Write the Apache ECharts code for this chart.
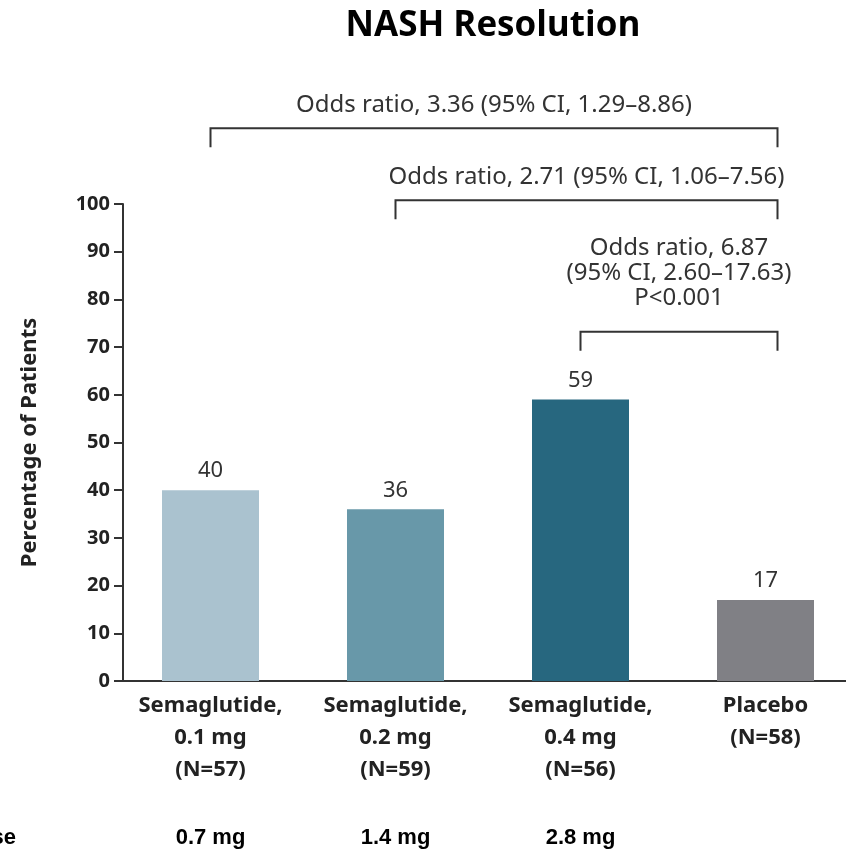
<!DOCTYPE html>
<html>
<head>
<meta charset="utf-8">
<script src="https://cdn.jsdelivr.net/npm/echarts@6/dist/echarts.min.js"></script>
<style>html,body{margin:0;padding:0;background:#fff}#c{width:846px;height:856px}</style>
</head>
<body>
<div id="c"></div>
<script>
const categories = ['Semaglutide,\n0.1 mg\n(N=57)', 'Semaglutide,\n0.2 mg\n(N=59)', 'Semaglutide,\n0.4 mg\n(N=56)', 'Placebo\n(N=58)'];
const percentages = [40, 36, 59, 17];
const equivalentDoses = ['0.7 mg', '1.4 mg', '2.8 mg', ''];
const yTicks = [0, 10, 20, 30, 40, 50, 60, 70, 80, 90, 100];
const comparisonFrom = [0, 1, 2];
const comparisonTo = [3, 3, 3];
const comparisonText = [
  'Odds ratio, 3.36 (95% CI, 1.29\u20138.86)',
  'Odds ratio, 2.71 (95% CI, 1.06\u20137.56)',
  'Odds ratio, 6.87\n(95% CI, 2.60\u201317.63)\nP<0.001'
];

const barColors = ['#aac2cf', '#6898a9', '#27677f', '#808085'];
const bracketLevels = [115.9, 100.8, 73.2];
const bracketTextGap = [11, 11, 21];
const FONT = '"Noto Sans", "Open Sans", sans-serif';

const chart = echarts.init(document.getElementById('c'), null, {renderer: 'canvas'});

const option = {
  animation: false,
  backgroundColor: '#ffffff',
  title: {
    text: 'NASH Resolution',
    left: 488, top: 4, textAlign: 'center',
    textStyle: {fontFamily: '"Open Sans", sans-serif', fontWeight: 'bold', fontSize: 35, color: '#000'}
  },
  grid: {left: 118, width: 740, top: 204, bottom: 175, containLabel: false, outerBoundsMode: 'none'},
  xAxis: [{
    type: 'category',
    data: categories,
    axisLine: {show: true, lineStyle: {color: '#333', width: 2}},
    axisTick: {show: false},
    axisLabel: {
      interval: 0, margin: 9, fontFamily: FONT, fontWeight: 'bold', fontSize: 22,
      lineHeight: 32, color: '#222'
    }
  }, {
    type: 'category',
    data: equivalentDoses,
    position: 'bottom',
    offset: 138,
    axisLine: {show: false},
    axisTick: {show: false},
    axisLabel: {
      interval: 0, margin: 8, fontFamily: '"Liberation Sans Narrow", "Liberation Sans", sans-serif',
      fontWeight: 'bold', fontSize: 22, color: '#000'
    }
  }],
  yAxis: {
    type: 'value', min: 0, max: 100, interval: 10,
    offset: -5,
    name: 'Percentage of Patients', nameLocation: 'middle', nameGap: 82, nameRotate: 90,
    nameTextStyle: {fontFamily: FONT, fontWeight: 'bold', fontSize: 22, color: '#222'},
    axisLine: {show: true, lineStyle: {color: '#333', width: 2}},
    axisTick: {show: true, inside: false, length: 9, lineStyle: {color: '#333', width: 2}},
    splitLine: {show: false},
    axisLabel: {
      margin: 13, fontFamily: FONT, fontWeight: 'bold', fontSize: 20, color: '#222',
      formatter: v => yTicks.indexOf(v) >= 0 ? String(v) : ''
    }
  },
  series: [{
    type: 'bar',
    data: percentages.map((v, i) => ({value: v, itemStyle: {color: barColors[i]}})),
    barWidth: 97,
    label: {show: true, position: 'top', distance: 8, fontFamily: FONT, fontSize: 22, color: '#333'}
  }, {
    type: 'custom',
    clip: false,
    silent: true,
    data: comparisonFrom.map((f, i) => [f, comparisonTo[i], bracketLevels[i], i]),
    renderItem: function (params, api) {
      const i = api.value(3);
      const p0 = api.coord([api.value(0), api.value(2)]);
      const p1 = api.coord([api.value(1), api.value(2)]);
      const x0 = p0[0], x1 = p1[0] + 12, y = p0[1], drop = 19;
      return {
        type: 'group',
        children: [{
          type: 'polyline',
          shape: {points: [[x0, y + drop], [x0, y], [x1, y], [x1, y + drop]]},
          style: {stroke: '#333', lineWidth: 2, fill: null}
        }, {
          type: 'text',
          style: {
            text: comparisonText[i], x: (x0 + x1) / 2, y: y - bracketTextGap[i],
            align: 'center', verticalAlign: 'bottom',
            font: '24px ' + FONT, fill: '#333', lineHeight: 25
          }
        }]
      };
    }
  }],
  graphic: [{
    type: 'text', x: 16, y: 838,
    style: {text: 'Dose', align: 'right', verticalAlign: 'middle',
      font: 'bold 22px "Liberation Sans Narrow", "Liberation Sans", sans-serif', fill: '#000'}
  }]
};
chart.setOption(option);
</script>
</body>
</html>
